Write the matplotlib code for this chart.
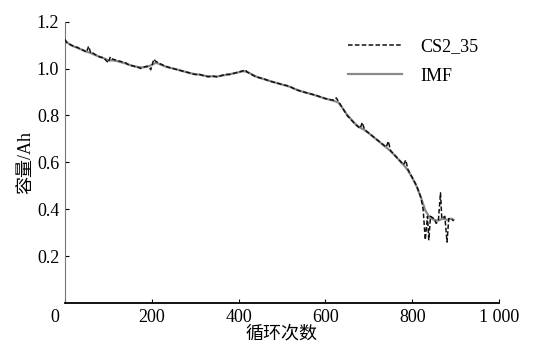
import matplotlib
matplotlib.use("Agg")
import matplotlib.pyplot as plt
import matplotlib.transforms as mtransforms

cs2_cycle = [0, 5, 10, 15, 20, 25, 30, 35, 40, 45, 50, 55, 60, 65, 70, 75, 80, 85,
             90, 95, 100, 105, 110, 115, 120, 125, 130, 135, 140, 145, 150, 155,
             160, 165, 170, 175, 180, 185, 190, 195, 198, 205, 210, 215, 220, 225,
             230, 235, 240, 250, 260, 270, 280, 290, 300, 310, 320, 330, 340, 350,
             360, 370, 380, 390, 400, 410, 415, 420, 430, 440, 450, 460, 470, 480,
             490, 500, 510, 520, 530, 540, 550, 560, 570, 580, 590, 600, 610, 620,
             625, 630, 640, 650, 660, 670, 680, 685, 690, 700, 710, 720, 730, 740,
             745, 750, 760, 770, 780, 785, 790, 800, 810, 820, 825, 830, 835, 838,
             842, 850, 855, 860, 865, 868, 875, 880, 884, 890, 895]
cs2_cap = [1.125, 1.11, 1.105, 1.1, 1.095, 1.092, 1.09, 1.083, 1.08, 1.076, 1.07,
           1.095, 1.065, 1.066, 1.06, 1.055, 1.05, 1.048, 1.045, 1.035, 1.025, 1.05,
           1.04, 1.038, 1.035, 1.032, 1.03, 1.026, 1.025, 1.018, 1.015, 1.012, 1.01,
           1.004, 1.005, 1.0, 1.005, 1.008, 1.01, 1.004, 0.995, 1.04, 1.03, 1.026,
           1.02, 1.016, 1.01, 1.008, 1.005, 1.0, 0.995, 0.99, 0.985, 0.98, 0.975,
           0.975, 0.97, 0.965, 0.968, 0.965, 0.97, 0.975, 0.975, 0.98, 0.985, 0.99,
           0.995, 0.985, 0.975, 0.965, 0.96, 0.955, 0.948, 0.942, 0.938, 0.932,
           0.928, 0.922, 0.912, 0.905, 0.9, 0.895, 0.89, 0.885, 0.878, 0.872, 0.868,
           0.865, 0.875, 0.86, 0.83, 0.8, 0.78, 0.76, 0.745, 0.77, 0.74, 0.725, 0.71,
           0.695, 0.68, 0.665, 0.69, 0.65, 0.63, 0.61, 0.59, 0.61, 0.57, 0.535, 0.5,
           0.45, 0.40, 0.27, 0.37, 0.27, 0.37, 0.36, 0.34, 0.35, 0.47, 0.36, 0.37,
           0.26, 0.36, 0.36, 0.35]

# IMF (smoothed component)
imf_cycle = [0, 10, 20, 30, 40, 50, 60, 70, 80, 90, 100, 110, 120, 130, 140, 150,
             160, 170, 180, 190, 200, 210, 220, 230, 240, 250, 260, 270, 280, 290,
             300, 310, 320, 330, 340, 350, 360, 370, 380, 390, 400, 410, 420, 430,
             440, 450, 460, 470, 480, 490, 500, 510, 520, 530, 540, 550, 560, 570,
             580, 590, 600, 610, 620, 630, 640, 650, 660, 670, 680, 690, 700, 710,
             720, 730, 740, 750, 760, 770, 780, 790, 800, 810, 820, 830, 840, 850,
             860, 870, 880, 890, 895]
imf_cap = [1.12, 1.105, 1.095, 1.088, 1.08, 1.072, 1.066, 1.058, 1.05, 1.044, 1.035,
           1.035, 1.032, 1.027, 1.022, 1.015, 1.01, 1.006, 1.005, 1.008, 1.015,
           1.025, 1.018, 1.01, 1.004, 1.0, 0.995, 0.99, 0.985, 0.98, 0.976, 0.974,
           0.97, 0.967, 0.967, 0.966, 0.969, 0.973, 0.976, 0.98, 0.984, 0.989, 0.986,
           0.976, 0.966, 0.96, 0.954, 0.948, 0.943, 0.937, 0.932, 0.927, 0.921,
           0.913, 0.906, 0.9, 0.895, 0.89, 0.884, 0.878, 0.872, 0.867, 0.862, 0.855,
           0.83, 0.803, 0.782, 0.762, 0.748, 0.738, 0.724, 0.709, 0.694, 0.679,
           0.664, 0.648, 0.629, 0.609, 0.589, 0.566, 0.534, 0.498, 0.45, 0.395,
           0.365, 0.355, 0.352, 0.36, 0.355, 0.36, 0.355]

xticks = [0, 200, 400, 600, 800, 1000]
xtick_labels = ["0", "200", "400", "600", "800", "1 000"]
yticks = [0.2, 0.4, 0.6, 0.8, 1.0, 1.2]

plt.rcParams['font.family'] = ['Liberation Serif', 'Noto Sans CJK SC']

fig = plt.figure(figsize=(5.35, 3.44), dpi=100)
ax = fig.add_axes([0.121, 0.119, 0.812, 0.818])

l1, = ax.plot(cs2_cycle, cs2_cap, color='#111111', lw=1.1, ls=(0, (3, 1.5)),
              label='CS2_35', zorder=3)
l2, = ax.plot(imf_cycle, imf_cap, color='#8a8a8a', lw=1.6, label='IMF', zorder=2)

ax.set_xlim(0, 1000)
ax.set_ylim(0, 1.2)
ax.set_xticks(xticks)
ax.set_xticklabels(xtick_labels)
ax.set_yticks(yticks)
ax.set_yticklabels(["%.1f" % v for v in yticks])
ax.tick_params(direction='in', length=3, width=0.8, labelsize=13, pad=4)

# the "0" label sits a bit left of its tick in the original
off = mtransforms.ScaledTranslation(-10 / 100, 0, fig.dpi_scale_trans)
lbl0 = ax.get_xticklabels()[0]
lbl0.set_transform(lbl0.get_transform() + off)

ax.spines['top'].set_visible(False)
ax.spines['right'].set_visible(False)
ax.spines['left'].set_color('#777777')
ax.spines['left'].set_linewidth(0.8)
ax.spines['bottom'].set_linewidth(1.3)

ax.set_xlabel('循环次数', fontsize=13, labelpad=0)
ax.set_ylabel('容量/Ah', fontsize=13, labelpad=2)

leg = ax.legend([l1, l2], ['CS2_35', 'IMF'], loc='upper right',
                bbox_to_anchor=(0.99, 1.0), frameon=False, fontsize=13,
                handlelength=3.0, handletextpad=1.0, labelspacing=0.7)

fig.savefig('out.png', dpi=100)
